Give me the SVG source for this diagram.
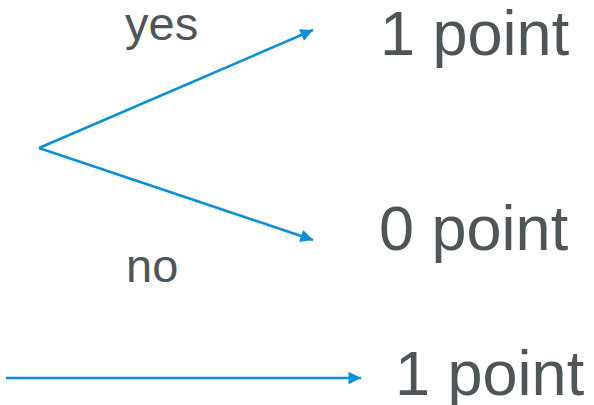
<svg xmlns="http://www.w3.org/2000/svg" width="594" height="405" viewBox="0 0 594 405">
<style>
.t{font-family:"Liberation Sans",Arial,sans-serif;fill:#4d5559}
.big{font-size:63px}
.lbl{font-size:47px}
.c{stroke:#0a8fd6;stroke-width:2.5;fill:none}
</style>
<defs>
<marker id="ah" viewBox="0 0 10 10" refX="10" refY="5" markerWidth="6.5" markerHeight="5" markerUnits="strokeWidth" orient="auto">
<path d="M0,0 L10,5 L0,10 Z" fill="#0a8fd6"/>
</marker>
</defs>
<rect width="594" height="405" fill="#fff"/>
<g id="connectors">
<line class="c" x1="39" y1="148" x2="313" y2="30" marker-end="url(#ah)"/>
<line class="c" x1="39" y1="148" x2="313" y2="240" marker-end="url(#ah)"/>
<line class="c" x1="6" y1="378" x2="361" y2="378" marker-end="url(#ah)"/>
</g>
<g id="yes"><text class="t lbl" x="125" y="40">yes</text></g>
<g id="no"><text class="t lbl" x="126" y="282">no</text></g>
<g id="one-point-top"><text class="t big" x="380" y="55">1 point</text></g>
<g id="zero-point"><text class="t big" x="379" y="250">0 point</text></g>
<g id="one-point-bottom"><text class="t big" x="395" y="395">1 point</text></g>
</svg>
